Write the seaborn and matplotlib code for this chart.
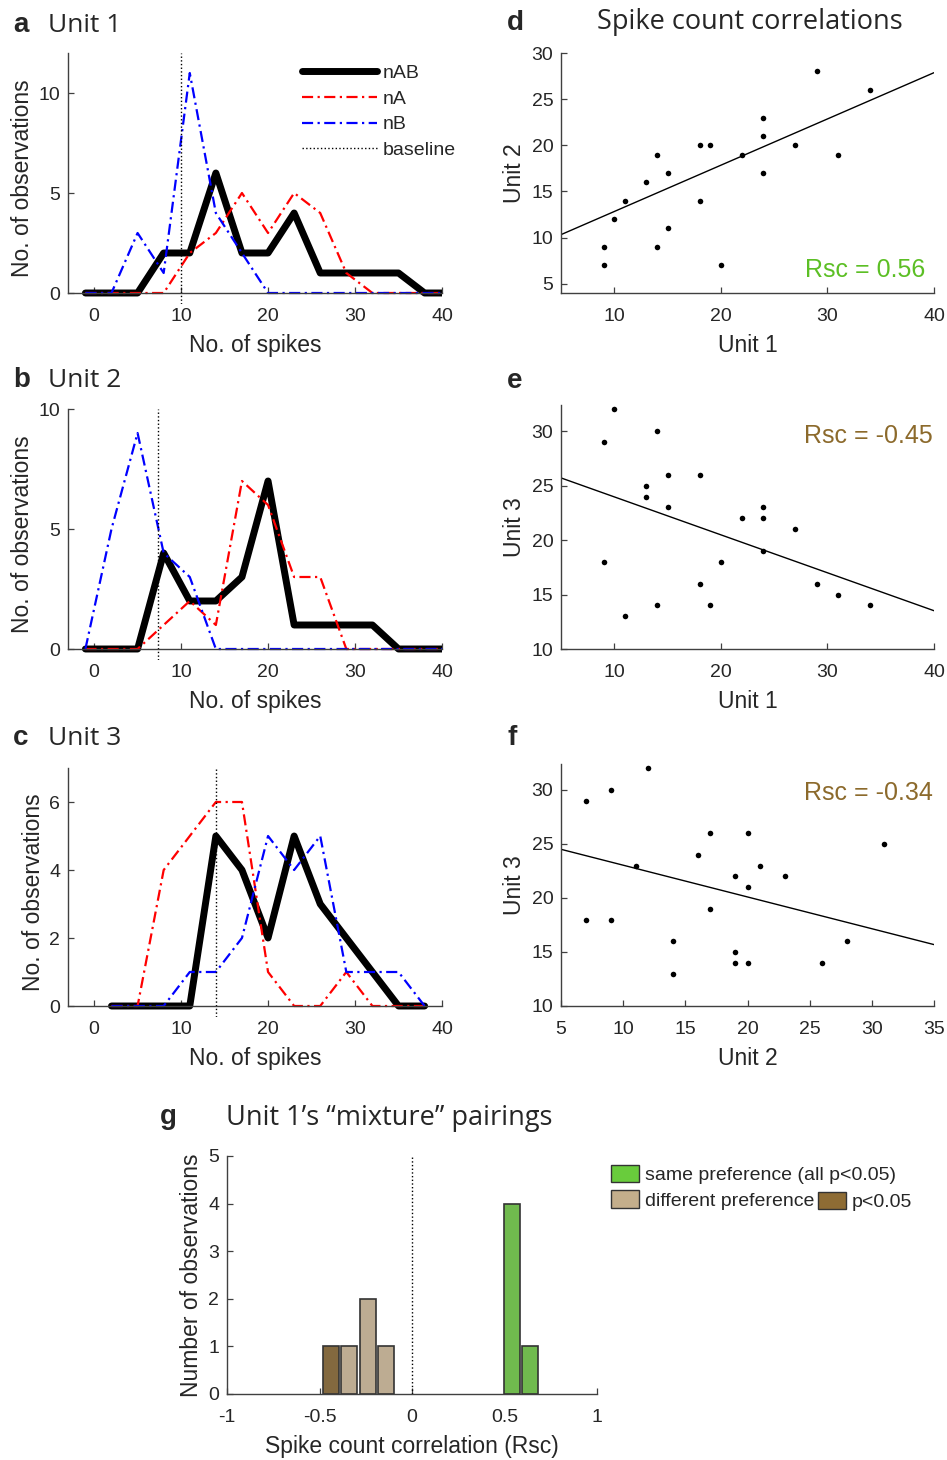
import numpy as np
import pandas as pd
import matplotlib
matplotlib.use("Agg")
import matplotlib.pyplot as plt
import seaborn as sns
from matplotlib.patches import Patch

# ---------------- data ----------------
# spike-count histograms (bin centres and counts)
bins_ab = [-1, 2, 5, 8, 11, 14, 17, 20, 23, 26, 29, 32, 35, 38, 41]
u1_nAB = [0, 0, 0, 2, 2, 6, 2, 2, 4, 1, 1, 1, 1, 0, 0]
u1_nA = [0, 0, 0, 0, 2, 3, 5, 3, 5, 4, 1, 0, 0, 0, 0]
u1_nB = [0, 0, 3, 1, 11, 4, 2, 0, 0, 0, 0, 0, 0, 0, 0]
u2_nAB = [0, 0, 0, 4, 2, 2, 3, 7, 1, 1, 1, 1, 0, 0, 0]
u2_nA = [0, 0, 0, 1, 2, 1, 7, 6, 3, 3, 0, 0, 0, 0, 0]
u2_nB = [0, 5, 9, 4, 3, 0, 0, 0, 0, 0, 0, 0, 0, 0, 0]
bins_c = [2, 5, 8, 11, 14, 17, 20, 23, 26, 29, 32, 35, 38]
u3_nAB = [0, 0, 0, 0, 5, 4, 2, 5, 3, 2, 1, 0, 0]
u3_nA = [0, 0, 4, 5, 6, 6, 1, 0, 0, 1, 0, 0, 0]
u3_nB = [0, 0, 0, 1, 1, 2, 5, 4, 5, 1, 1, 1, 0]
baselines = [10, 7.3, 14]

# trial-by-trial spike counts (nAB trials)
unit1 = [9, 9, 10, 11, 13, 13, 14, 14, 15, 15, 18, 18, 19, 20, 22, 24, 24, 24, 27, 29, 31, 34]
unit2 = [9, 7, 12, 14, 31, 16, 9, 19, 17, 11, 20, 14, 20, 7, 19, 21, 23, 17, 20, 28, 19, 26]
unit3 = [18, 29, 32, 13, 25, 24, 30, 14, 26, 23, 26, 16, 14, 18, 22, 23, 22, 19, 21, 16, 15, 14]
rsc_values = [0.56, -0.45, -0.34]

# Unit 1's mixture pairings histogram
rsc_centers = [-0.44, -0.34, -0.24, -0.14, 0.54, 0.64]
rsc_counts = [1, 1, 2, 1, 4, 1]
rsc_group = ["diff_sig", "diff", "diff", "diff", "same", "same"]
g_xticks = [-1, -0.5, 0, 0.5, 1]
g_xticklabels = ["-1", "-0.5", "0", "0.5", "1"]

# ---------------- style ----------------
sns.set_style("ticks")
plt.rcParams["font.family"] = ["Liberation Sans", "DejaVu Sans"]
plt.rcParams["axes.unicode_minus"] = False
TXT = "#262626"
SPINE = "#404040"
GREEN_TXT = "#5cbf25"
BROWN_TXT = "#8c6a2c"
GREEN = "#69cc3c"
TAN = "#c4ae8b"
BROWN = "#8e6c34"
EDGE = "#333333"
TICK_FS = 14
LAB_FS = 16.5
TITLE_FONT = ["Open Sans", "DejaVu Sans"]
DASHDOT = (0, (5, 2, 1, 2))

W, H = 947, 1460
fig = plt.figure(figsize=(W / 100, H / 100), dpi=100)


def rect(l, t, r, b):
    return [l / W, 1 - b / H, (r - l) / W, (b - t) / H]


def style_ax(ax):
    sns.despine(ax=ax)
    for s in ("left", "bottom"):
        ax.spines[s].set_color(SPINE)
        ax.spines[s].set_linewidth(1.0)
    ax.tick_params(direction="in", length=4, width=0.9, labelsize=TICK_FS,
                   color=SPINE, labelcolor=TXT)
    ax.tick_params(axis="x", pad=11)
    ax.tick_params(axis="y", pad=5.5)


def hist_panel(px, bins, nab, na, nb, base, ytop, yticks, legend=False):
    l, t, r, b = px
    e = 0.045 * ytop
    extra = (b - t) * e / ytop
    ax = fig.add_axes(rect(l, t, r, b + extra))
    sns.lineplot(x=bins, y=nab, color="black", lw=5, errorbar=None,
                 label="nAB", ax=ax, legend=False)
    sns.lineplot(x=bins, y=na, color="#ff0000", lw=1.6, ls=DASHDOT, errorbar=None,
                 label="nA", ax=ax, legend=False)
    sns.lineplot(x=bins, y=nb, color="#0000ff", lw=1.6, ls=DASHDOT, errorbar=None,
                 label="nB", ax=ax, legend=False)
    ax.axvline(base, color="black", ls=":", lw=1.0, label="baseline")
    ax.set_xlim(-3, 40)
    ax.set_ylim(-e, ytop)
    ax.spines["bottom"].set_position(("data", 0))
    ax.spines["left"].set_bounds(0, ytop)
    ax.set_xticks([0, 10, 20, 30, 40])
    ax.set_yticks(yticks)
    style_ax(ax)
    ax.set_xlabel("No. of spikes", fontsize=LAB_FS, color=TXT, labelpad=6)
    ax.set_ylabel("No. of observations", fontsize=LAB_FS, color=TXT, labelpad=3)
    if legend:
        ax.legend(loc="upper left", bbox_to_anchor=(0.625, 0.955), frameon=False,
                  fontsize=14, handlelength=3.85, handletextpad=0.3,
                  labelspacing=0.42, borderpad=0, borderaxespad=0)
    return ax


hist_panel((68, 53, 442, 293), bins_ab, u1_nAB, u1_nA, u1_nB, baselines[0], 12, [0, 5, 10], legend=True)
hist_panel((68, 409, 442, 649), bins_ab, u2_nAB, u2_nA, u2_nB, baselines[1], 10, [0, 5, 10])
hist_panel((68, 768, 442, 1006), bins_c, u3_nAB, u3_nA, u3_nB, baselines[2], 7, [0, 2, 4, 6])


def scatter_panel(px, x, y, xlim, ylim, xticks, yticks, xlabel, ylabel, rsc, rcol, rpos):
    ax = fig.add_axes(rect(*px))
    sns.scatterplot(x=x, y=y, color="black", s=16, linewidth=0, ax=ax)
    # regression line with slope given by the spike-count correlation
    xa, ya = np.asarray(x, float), np.asarray(y, float)
    slope = rsc * ya.std() / xa.std()
    grid = np.linspace(xlim[0], xlim[1], 50)
    sns.lineplot(x=grid, y=ya.mean() + slope * (grid - xa.mean()), color="black",
                 lw=1.0, errorbar=None, ax=ax)
    ax.set_xlim(xlim)
    ax.set_ylim(ylim)
    ax.set_xticks(xticks)
    ax.set_yticks(yticks)
    style_ax(ax)
    ax.set_xlabel(xlabel, fontsize=LAB_FS, color=TXT, labelpad=6)
    ax.set_ylabel(ylabel, fontsize=LAB_FS, color=TXT, labelpad=4)
    ax.text(rpos[0], rpos[1], f"Rsc = {rsc:.2f}", transform=ax.transAxes, ha="right",
            va="center", fontsize=18, color=rcol)
    return ax


scatter_panel((561, 53, 934, 293), unit1, unit2, (5, 40), (4, 30), [10, 20, 30, 40],
              [5, 10, 15, 20, 25, 30], "Unit 1", "Unit 2", rsc_values[0], GREEN_TXT, (0.976, 0.096))
scatter_panel((561, 405, 934, 649), unit1, unit3, (5, 40), (10, 32.4), [10, 20, 30, 40],
              [10, 15, 20, 25, 30], "Unit 1", "Unit 3", rsc_values[1], BROWN_TXT, (0.997, 0.873))
scatter_panel((561, 764, 934, 1006), unit2, unit3, (5, 35), (10, 32.4), [5, 10, 15, 20, 25, 30, 35],
              [10, 15, 20, 25, 30], "Unit 2", "Unit 3", rsc_values[2], BROWN_TXT, (0.997, 0.88))

# ---------------- panel g ----------------
axg = fig.add_axes(rect(227, 1156, 597, 1394))
df_g = pd.DataFrame({"rsc": rsc_centers, "count": rsc_counts, "group": rsc_group})
sns.barplot(data=df_g, x="rsc", y="count", hue="group",
            palette={"same": GREEN, "diff": TAN, "diff_sig": BROWN},
            native_scale=True, width=0.86, dodge=False, errorbar=None,
            edgecolor=EDGE, linewidth=1.2, legend=False, ax=axg)
axg.axvline(0, color="black", ls=":", lw=1.0)
axg.set_xlim(-1, 1)
axg.set_ylim(0, 5)
axg.set_xticks(g_xticks)
axg.set_xticklabels(g_xticklabels)
axg.set_yticks([0, 1, 2, 3, 4, 5])
style_ax(axg)
axg.set_xlabel("Spike count correlation (Rsc)", fontsize=LAB_FS, color=TXT, labelpad=6)
axg.set_ylabel("Number of observations", fontsize=LAB_FS, color=TXT, labelpad=4)

fig.legend(handles=[Patch(facecolor=GREEN, edgecolor=EDGE, label="same preference (all p<0.05)"),
                    Patch(facecolor=TAN, edgecolor=EDGE, label="different preference")],
           loc="upper left", bbox_to_anchor=(611 / W, 1 - 1165 / H), frameon=False,
           fontsize=14, handlelength=1.45, handleheight=1.0, handletextpad=0.3,
           labelspacing=0.3, borderpad=0, borderaxespad=0)
fig.legend(handles=[Patch(facecolor=BROWN, edgecolor=EDGE, label="p<0.05")],
           loc="upper left", bbox_to_anchor=(818 / W, 1 - 1192 / H), frameon=False,
           fontsize=14, handlelength=1.45, handleheight=1.0, handletextpad=0.3,
           borderpad=0, borderaxespad=0)

# ---------------- panel letters and titles ----------------
letters = [("a", 13, 32), ("b", 13, 387), ("c", 13, 745),
           ("d", 507, 30), ("e", 507, 388), ("f", 507, 745), ("g", 160, 1124)]
for s, x, y in letters:
    fig.text(x / W, 1 - y / H, s, fontsize=20, fontweight="bold", va="baseline", ha="left")

titles = [("Unit 1", 48, 32, 19), ("Unit 2", 48, 387, 19), ("Unit 3", 48, 745, 19),
          ("Spike count correlations", 597, 29, 19.5),
          ("Unit 1\u2019s \u201cmixture\u201d pairings", 226, 1125, 19.5)]
for s, x, y, fs in titles:
    fig.text(x / W, 1 - y / H, s, fontsize=fs, family=TITLE_FONT, va="baseline", ha="left")

fig.savefig("out.png", dpi=100)
